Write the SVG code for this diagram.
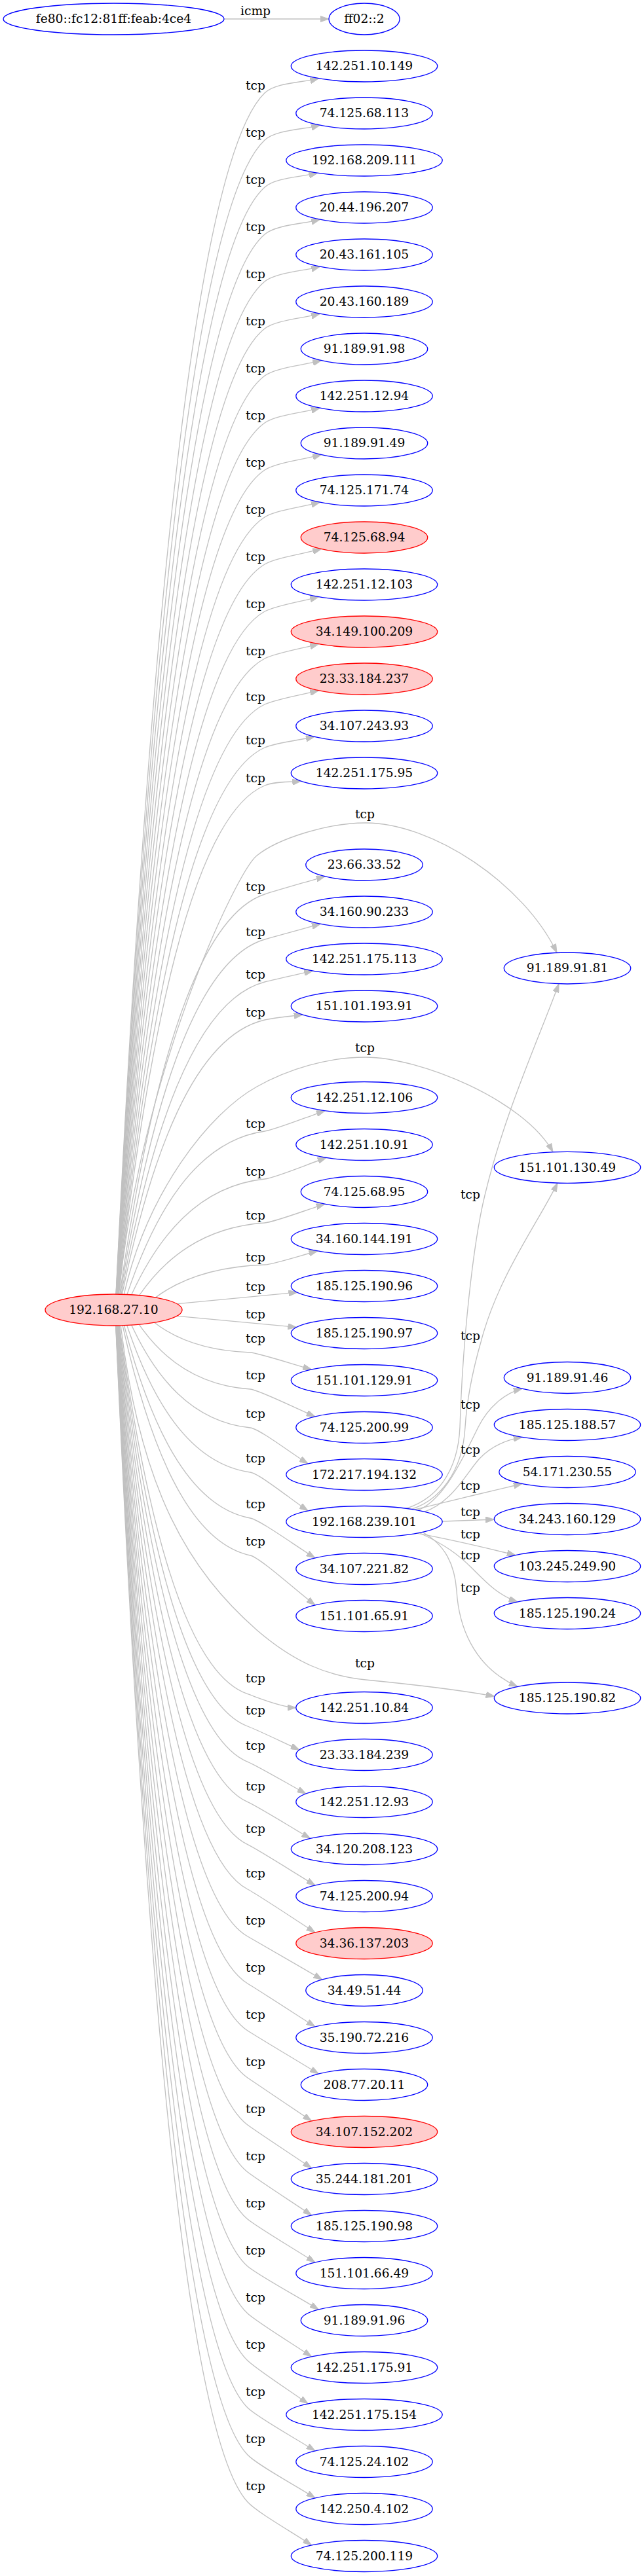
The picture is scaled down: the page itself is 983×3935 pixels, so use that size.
<svg xmlns="http://www.w3.org/2000/svg" width="983" height="3935" viewBox="0 0 983 3935">
<defs>
<style>
.n{fill:#fff;stroke:#0000ff;stroke-width:1.33}
.r{fill:#ffcccc;stroke:#ff0000;stroke-width:1.33}
text{font-family:'DejaVu Serif',serif;font-size:18.67px;text-anchor:middle;fill:#000}
.e path{fill:none;stroke:#c0c0c0;stroke-width:1.33;marker-end:url(#ah)}
</style>
<marker id="ah" viewBox="0 0 13.3 9.34" refX="13.3" refY="4.67" markerWidth="13.3" markerHeight="9.34" markerUnits="userSpaceOnUse" orient="auto"><path d="M0,0 L13.3,4.67 L0,9.34 Z" fill="#c0c0c0" stroke="#c0c0c0" stroke-width="1"/></marker>
</defs>
<rect width="983" height="3935" fill="#fff"/>
<g id="connectors" class="e">
<path d="M342,29 L502,29"/>
<path d="M177,1977 C222.4,1059.5 290.5,252.1 404,142 C421,125.5 461.7,126.5 486.4,119.8"/>
<path d="M177.1,1977 C222.5,1095.5 290.6,319.8 404,214 C421,198.1 463,198.1 488.3,191.3"/>
<path d="M177.2,1977 C222.6,1131.5 290.6,387.5 404,286 C421,270.8 460.5,270.7 484.7,264.2"/>
<path d="M177.4,1977 C222.7,1167.5 290.7,455.1 404,358 C421,343.4 463,342.1 488.3,335.3"/>
<path d="M177.5,1977 C222.8,1203.5 290.8,522.8 404,430 C421,416.1 463,414.1 488.3,407.3"/>
<path d="M177.7,1977 C223,1239.5 290.9,590.5 404,502 C421,488.7 463,486.1 488.3,479.3"/>
<path d="M177.9,1977 C223.1,1275.5 291,658.2 404,574 C421,561.4 464.5,557.7 490.5,550.7"/>
<path d="M178.1,1977 C223.3,1311.5 291.1,725.9 404,646 C421,634 463,630.1 488.3,623.3"/>
<path d="M178.3,1977 C223.4,1347.5 291.2,793.5 404,718 C421,706.7 464.5,701.7 490.5,694.7"/>
<path d="M178.6,1977 C223.7,1383.5 291.3,861.2 404,790 C421,779.3 463,774.1 488.3,767.3"/>
<path d="M178.8,1977 C223.8,1419.5 291.4,928.9 404,862 C421,852 464.5,845.7 490.5,838.7"/>
<path d="M179.2,1977 C224.2,1455.5 291.6,996.6 404,934 C421,924.6 461.7,918.5 486.4,911.8"/>
<path d="M179.5,1977 C224.4,1491.5 291.8,1064.3 404,1006 C421,997.3 461.7,990.5 486.4,983.8"/>
<path d="M180,1977 C224.8,1526.5 292,1130.1 404,1076 C421,1067.9 461.7,1061.2 486.4,1054.9"/>
<path d="M180.4,1977 C225.1,1559.5 292.2,1192.1 404,1142 C421,1134.5 457.3,1130.5 480.2,1125.5"/>
<path d="M180.9,1977 C225.5,1588.5 292.5,1246.6 404,1200 C421,1193 442.8,1195.2 459.5,1193.1"/>
<path d="M182.7,1977.1 C227,1671.5 293.4,1402.7 404,1366 C420.6,1360.5 468.4,1347 496,1338.8"/>
<path d="M183.7,1977.1 C227.8,1706 293.9,1467.5 404,1435 C420.5,1430.1 463.7,1418.5 489.3,1411.4"/>
<path d="M185,1977.1 C228.8,1738.5 294.5,1528.6 404,1500 C420.4,1495.7 455.4,1488.2 477.5,1483.1"/>
<path d="M186.4,1977.2 C229.9,1767.5 295.2,1583.1 404,1558 C420.3,1554.2 444.7,1552.4 462.1,1550"/>
<path d="M193.9,1977.4 C235.9,1852.7 299,1743 404,1728 C419.8,1725.8 468.5,1706.2 496.2,1696.8"/>
<path d="M200.7,1977.8 C241.4,1889.4 302.4,1811.6 404,1801 C419.2,1799.4 469.9,1778.3 498.2,1768.5"/>
<path d="M212.6,1978.7 C250.9,1923.4 308.3,1874.6 404,1868 C418.4,1867 468.3,1847.9 495.9,1839.3"/>
<path d="M237.6,1981.9 C270.9,1957 320.8,1935 404,1932 C416.5,1931.6 460.6,1917.3 484.8,1911"/>
<path d="M270.7,1991.7 L453.8,1974.2"/>
<path d="M270.7,2010.3 L452.7,2027.4"/>
<path d="M236,2020.4 C265.2,2043.2 309,2063.3 382,2066 C393,2066.4 447.5,2084.1 475.6,2091.9"/>
<path d="M212.4,2023.3 C246.3,2072.7 297.2,2116.1 382,2122 C394.7,2122.9 451.3,2151.3 481,2163.9"/>
<path d="M200.8,2024.2 C237,2102.6 291.4,2171.6 382,2181 C395.6,2182.4 443.7,2219.4 470.2,2235.9"/>
<path d="M193.8,2024.6 C231.4,2136.8 287.9,2235.5 382,2249 C396.1,2251 443.7,2290.2 470.2,2307.9"/>
<path d="M189.5,2024.7 C228,2171.9 285.8,2301.3 382,2319 C396.4,2321.6 451.3,2361.6 481,2379.9"/>
<path d="M187.2,2024.8 C226.2,2200.4 284.6,2354.9 382,2376 C396.6,2379.2 451.3,2429.1 481,2451.9"/>
<path d="M182.3,2024.9 C221.4,2306.3 280.2,2553.9 378,2587.7 C392.7,2592.8 430,2608.5 451.8,2608.5"/>
<path d="M181.7,2024.9 C221,2331 279.9,2600.3 378,2637 C392.7,2642.5 433.3,2662.2 457,2673"/>
<path d="M181.1,2024.9 C220.5,2358.1 279.6,2651.3 378,2691.3 C392.8,2697.3 440.3,2725.4 467,2740"/>
<path d="M180.5,2025 C220,2388.9 279.3,2709 378,2752.7 C392.8,2759.2 444.9,2791.6 473.6,2808.3"/>
<path d="M180,2025 C219.6,2421.4 279,2770.1 378,2817.7 C392.9,2824.8 450.1,2861.2 481,2879.9"/>
<path d="M179.5,2025 C219.2,2455.5 278.8,2834.3 378,2886 C392.9,2893.7 450.1,2932.1 481,2951.9"/>
<path d="M179.1,2025 C218.9,2491.5 278.6,2902 378,2958 C392.9,2966.4 457.7,3004.1 491.8,3023.9"/>
<path d="M178.8,2025 C218.6,2527.5 278.4,2969.7 378,3030 C392.9,3039 450.1,3076.1 481,3095.9"/>
<path d="M178.4,2025 C218.3,2563.5 278.2,3037.4 378,3102 C392.9,3111.7 453.9,3148.1 486.4,3167.9"/>
<path d="M178.2,2025 C218.2,2599.5 278.1,3105.1 378,3174 C392.9,3184.3 446.3,3220.1 475.6,3239.9"/>
<path d="M177.9,2025 C217.9,2635.5 278,3172.7 378,3246 C393,3257 446.3,3292.1 475.6,3311.9"/>
<path d="M177.7,2025 C217.8,2671.5 277.9,3240.4 378,3318 C393,3329.6 446.3,3364.1 475.6,3383.9"/>
<path d="M177.5,2025 C217.6,2707.5 277.8,3308.1 378,3390 C393,3402.3 450.1,3436.1 481,3455.9"/>
<path d="M177.3,2025 C217.4,2743.5 277.7,3375.8 378,3462 C393,3474.9 453.9,3508.1 486.4,3527.9"/>
<path d="M177.2,2025 C217.4,2779.5 277.6,3443.5 378,3534 C393,3547.6 446.3,3580.1 475.6,3599.9"/>
<path d="M177,2025 C217.2,2815.5 277.5,3511.1 378,3606 C393,3620.2 442.5,3652.1 470.2,3671.9"/>
<path d="M176.9,2025 C217.1,2851.5 277.5,3578.8 378,3678 C393,3692.8 450.1,3724.1 481,3743.9"/>
<path d="M176.8,2025 C217,2887.5 277.4,3646.5 378,3750 C393,3765.5 450.1,3796.1 481,3815.9"/>
<path d="M176.7,2025 C217,2923.5 277.4,3714.2 378,3822 C393,3838.2 446.3,3868.1 475.6,3887.9"/>
<path d="M181.5,1977 C215,1640 360,1333 392,1307 C424,1281 500,1257 558,1257 C660,1257 800,1350 850,1455.3"/>
<path d="M189.2,1977.3 C225,1820 320,1700 392,1660 C440,1633 500,1615 558,1615 C640,1615 800,1680 844,1759.8"/>
<path d="M184.3,2025 C215,2280 290,2400 392,2490 C450,2540 500,2560 558,2566 C640,2574 710,2583 755,2591.3"/>
<path d="M620,2304.3 C665,2290 699,2250 702,2180 C706,2050 722,1900 740,1826 C770,1700 825,1580 853,1502.8"/>
<path d="M628,2305.4 C670,2292 706,2250 710,2180 C713,2130 724,2085 734,2050 C760,1950 820,1870 851,1807.1"/>
<path d="M638,2307.1 C680,2290 710,2220 730,2180 C745,2150 770,2128 797,2121.3"/>
<path d="M648,2309.2 C690,2295 712,2250 732,2228 C752,2207 775,2199 797,2195.4"/>
<path d="M632.5,2306.1 C690,2292 740,2280 797,2266.5"/>
<path d="M675.2,2324 L754.3,2321"/>
<path d="M636.3,2342.2 C690,2352 740,2364 787,2375.6"/>
<path d="M640,2341.5 C680,2360 700,2375 720,2395 C740,2415 760,2437 790,2446.9"/>
<path d="M645,2340.5 C680,2360 694,2390 697,2430 C700,2480 720,2545 790,2576.4"/>
</g>
<g id="edge-labels">
<text x="390" y="23">icmp</text>
<text x="390" y="137">tcp</text><text x="390" y="209">tcp</text><text x="390" y="281">tcp</text><text x="390" y="353">tcp</text>
<text x="390" y="425">tcp</text><text x="390" y="497">tcp</text><text x="390" y="569">tcp</text><text x="390" y="641">tcp</text>
<text x="390" y="713">tcp</text><text x="390" y="785">tcp</text><text x="390" y="857">tcp</text><text x="390" y="929">tcp</text>
<text x="390" y="1001">tcp</text><text x="390" y="1071">tcp</text><text x="390" y="1137">tcp</text><text x="390" y="1195">tcp</text>
<text x="390" y="1361">tcp</text><text x="390" y="1430">tcp</text><text x="390" y="1495">tcp</text><text x="390" y="1553">tcp</text>
<text x="390" y="1723">tcp</text><text x="390" y="1796">tcp</text><text x="390" y="1863">tcp</text><text x="390" y="1927">tcp</text>
<text x="390" y="1972">tcp</text><text x="390" y="2014">tcp</text><text x="390" y="2051">tcp</text><text x="390" y="2107">tcp</text>
<text x="390" y="2166">tcp</text><text x="390" y="2234">tcp</text><text x="390" y="2304">tcp</text><text x="390" y="2361">tcp</text>
<text x="390" y="2569.7">tcp</text><text x="390" y="2619">tcp</text><text x="390" y="2673.3">tcp</text><text x="390" y="2734.7">tcp</text>
<text x="390" y="2799.7">tcp</text><text x="390" y="2868">tcp</text><text x="390" y="2940">tcp</text><text x="390" y="3012">tcp</text>
<text x="390" y="3084">tcp</text><text x="390" y="3156">tcp</text><text x="390" y="3228">tcp</text><text x="390" y="3300">tcp</text>
<text x="390" y="3372">tcp</text><text x="390" y="3444">tcp</text><text x="390" y="3516">tcp</text><text x="390" y="3588">tcp</text>
<text x="390" y="3660">tcp</text><text x="390" y="3732">tcp</text><text x="390" y="3804">tcp</text>
<text x="557" y="1250">tcp</text><text x="557" y="1607">tcp</text><text x="557" y="2547">tcp</text>
<text x="718" y="1830.7">tcp</text><text x="718" y="2047.3">tcp</text><text x="718" y="2152.3">tcp</text><text x="718" y="2221.3">tcp</text>
<text x="718" y="2276.3">tcp</text><text x="718" y="2316.3">tcp</text><text x="718" y="2350">tcp</text><text x="718" y="2382.3">tcp</text>
<text x="718" y="2432.3">tcp</text>
</g>
<g id="n-fe80"><ellipse class="n" cx="173.5" cy="29" rx="168.5" ry="24"/><text x="173.5" y="35.2">fe80::fc12:81ff:feab:4ce4</text></g>
<g id="n-192-168-27-10"><ellipse class="r" cx="173.5" cy="2001" rx="104.5" ry="24"/><text x="173.5" y="2007.2">192.168.27.10</text></g>
<g id="n-ff02"><ellipse class="n" cx="556" cy="29" rx="54" ry="24"/><text x="556" y="35.2">ff02::2</text></g>
<g id="n-142-251-10-149"><ellipse class="n" cx="556" cy="101" rx="111.7" ry="24"/><text x="556" y="107.2">142.251.10.149</text></g>
<g id="n-74-125-68-113"><ellipse class="n" cx="556" cy="173" rx="104.2" ry="24"/><text x="556" y="179.2">74.125.68.113</text></g>
<g id="n-192-168-209-111"><ellipse class="n" cx="556" cy="245" rx="119.2" ry="24"/><text x="556" y="251.2">192.168.209.111</text></g>
<g id="n-20-44-196-207"><ellipse class="n" cx="556" cy="317" rx="104.2" ry="24"/><text x="556" y="323.2">20.44.196.207</text></g>
<g id="n-20-43-161-105"><ellipse class="n" cx="556" cy="389" rx="104.2" ry="24"/><text x="556" y="395.2">20.43.161.105</text></g>
<g id="n-20-43-160-189"><ellipse class="n" cx="556" cy="461" rx="104.2" ry="24"/><text x="556" y="467.2">20.43.160.189</text></g>
<g id="n-91-189-91-98"><ellipse class="n" cx="556" cy="533" rx="96.7" ry="24"/><text x="556" y="539.2">91.189.91.98</text></g>
<g id="n-142-251-12-94"><ellipse class="n" cx="556" cy="605" rx="104.2" ry="24"/><text x="556" y="611.2">142.251.12.94</text></g>
<g id="n-91-189-91-49"><ellipse class="n" cx="556" cy="677" rx="96.7" ry="24"/><text x="556" y="683.2">91.189.91.49</text></g>
<g id="n-74-125-171-74"><ellipse class="n" cx="556" cy="749" rx="104.2" ry="24"/><text x="556" y="755.2">74.125.171.74</text></g>
<g id="n-74-125-68-94"><ellipse class="r" cx="556" cy="821" rx="96.7" ry="24"/><text x="556" y="827.2">74.125.68.94</text></g>
<g id="n-142-251-12-103"><ellipse class="n" cx="556" cy="893" rx="111.7" ry="24"/><text x="556" y="899.2">142.251.12.103</text></g>
<g id="n-34-149-100-209"><ellipse class="r" cx="556" cy="965" rx="111.7" ry="24"/><text x="556" y="971.2">34.149.100.209</text></g>
<g id="n-23-33-184-237"><ellipse class="r" cx="556" cy="1037" rx="104.2" ry="24"/><text x="556" y="1043.2">23.33.184.237</text></g>
<g id="n-34-107-243-93"><ellipse class="n" cx="556" cy="1109" rx="104.2" ry="24"/><text x="556" y="1115.2">34.107.243.93</text></g>
<g id="n-142-251-175-95"><ellipse class="n" cx="556" cy="1181" rx="111.7" ry="24"/><text x="556" y="1187.2">142.251.175.95</text></g>
<g id="n-23-66-33-52"><ellipse class="n" cx="556" cy="1321" rx="89.2" ry="24"/><text x="556" y="1327.2">23.66.33.52</text></g>
<g id="n-34-160-90-233"><ellipse class="n" cx="556" cy="1393" rx="104.2" ry="24"/><text x="556" y="1399.2">34.160.90.233</text></g>
<g id="n-142-251-175-113"><ellipse class="n" cx="556" cy="1465" rx="119.2" ry="24"/><text x="556" y="1471.2">142.251.175.113</text></g>
<g id="n-151-101-193-91"><ellipse class="n" cx="556" cy="1537" rx="111.7" ry="24"/><text x="556" y="1543.2">151.101.193.91</text></g>
<g id="n-142-251-12-106"><ellipse class="n" cx="556" cy="1676.5" rx="111.7" ry="24"/><text x="556" y="1682.7">142.251.12.106</text></g>
<g id="n-142-251-10-91"><ellipse class="n" cx="556" cy="1748.5" rx="104.2" ry="24"/><text x="556" y="1754.7">142.251.10.91</text></g>
<g id="n-74-125-68-95"><ellipse class="n" cx="556" cy="1820.5" rx="96.7" ry="24"/><text x="556" y="1826.7">74.125.68.95</text></g>
<g id="n-34-160-144-191"><ellipse class="n" cx="556" cy="1892.5" rx="111.7" ry="24"/><text x="556" y="1898.7">34.160.144.191</text></g>
<g id="n-185-125-190-96"><ellipse class="n" cx="556" cy="1964.5" rx="111.7" ry="24"/><text x="556" y="1970.7">185.125.190.96</text></g>
<g id="n-185-125-190-97"><ellipse class="n" cx="556" cy="2036.5" rx="111.7" ry="24"/><text x="556" y="2042.7">185.125.190.97</text></g>
<g id="n-151-101-129-91"><ellipse class="n" cx="556" cy="2108.5" rx="111.7" ry="24"/><text x="556" y="2114.7">151.101.129.91</text></g>
<g id="n-74-125-200-99"><ellipse class="n" cx="556" cy="2180.5" rx="104.2" ry="24"/><text x="556" y="2186.7">74.125.200.99</text></g>
<g id="n-172-217-194-132"><ellipse class="n" cx="556" cy="2252.5" rx="119.2" ry="24"/><text x="556" y="2258.7">172.217.194.132</text></g>
<g id="n-192-168-239-101"><ellipse class="n" cx="556" cy="2324.5" rx="119.2" ry="24"/><text x="556" y="2330.7">192.168.239.101</text></g>
<g id="n-34-107-221-82"><ellipse class="n" cx="556" cy="2396.5" rx="104.2" ry="24"/><text x="556" y="2402.7">34.107.221.82</text></g>
<g id="n-151-101-65-91"><ellipse class="n" cx="556" cy="2468.5" rx="104.2" ry="24"/><text x="556" y="2474.7">151.101.65.91</text></g>
<g id="n-142-251-10-84"><ellipse class="n" cx="556" cy="2608.5" rx="104.2" ry="24"/><text x="556" y="2614.7">142.251.10.84</text></g>
<g id="n-23-33-184-239"><ellipse class="n" cx="556" cy="2680.5" rx="104.2" ry="24"/><text x="556" y="2686.7">23.33.184.239</text></g>
<g id="n-142-251-12-93"><ellipse class="n" cx="556" cy="2752.5" rx="104.2" ry="24"/><text x="556" y="2758.7">142.251.12.93</text></g>
<g id="n-34-120-208-123"><ellipse class="n" cx="556" cy="2824.5" rx="111.7" ry="24"/><text x="556" y="2830.7">34.120.208.123</text></g>
<g id="n-74-125-200-94"><ellipse class="n" cx="556" cy="2896.5" rx="104.2" ry="24"/><text x="556" y="2902.7">74.125.200.94</text></g>
<g id="n-34-36-137-203"><ellipse class="r" cx="556" cy="2968.5" rx="104.2" ry="24"/><text x="556" y="2974.7">34.36.137.203</text></g>
<g id="n-34-49-51-44"><ellipse class="n" cx="556" cy="3040.5" rx="89.2" ry="24"/><text x="556" y="3046.7">34.49.51.44</text></g>
<g id="n-35-190-72-216"><ellipse class="n" cx="556" cy="3112.5" rx="104.2" ry="24"/><text x="556" y="3118.7">35.190.72.216</text></g>
<g id="n-208-77-20-11"><ellipse class="n" cx="556" cy="3184.5" rx="96.7" ry="24"/><text x="556" y="3190.7">208.77.20.11</text></g>
<g id="n-34-107-152-202"><ellipse class="r" cx="556" cy="3256.5" rx="111.7" ry="24"/><text x="556" y="3262.7">34.107.152.202</text></g>
<g id="n-35-244-181-201"><ellipse class="n" cx="556" cy="3328.5" rx="111.7" ry="24"/><text x="556" y="3334.7">35.244.181.201</text></g>
<g id="n-185-125-190-98"><ellipse class="n" cx="556" cy="3400.5" rx="111.7" ry="24"/><text x="556" y="3406.7">185.125.190.98</text></g>
<g id="n-151-101-66-49"><ellipse class="n" cx="556" cy="3472.5" rx="104.2" ry="24"/><text x="556" y="3478.7">151.101.66.49</text></g>
<g id="n-91-189-91-96"><ellipse class="n" cx="556" cy="3544.5" rx="96.7" ry="24"/><text x="556" y="3550.7">91.189.91.96</text></g>
<g id="n-142-251-175-91"><ellipse class="n" cx="556" cy="3616.5" rx="111.7" ry="24"/><text x="556" y="3622.7">142.251.175.91</text></g>
<g id="n-142-251-175-154"><ellipse class="n" cx="556" cy="3688.5" rx="119.2" ry="24"/><text x="556" y="3694.7">142.251.175.154</text></g>
<g id="n-74-125-24-102"><ellipse class="n" cx="556" cy="3760.5" rx="104.2" ry="24"/><text x="556" y="3766.7">74.125.24.102</text></g>
<g id="n-142-250-4-102"><ellipse class="n" cx="556" cy="3832.5" rx="104.2" ry="24"/><text x="556" y="3838.7">142.250.4.102</text></g>
<g id="n-74-125-200-119"><ellipse class="n" cx="556" cy="3904.5" rx="111.7" ry="24"/><text x="556" y="3910.7">74.125.200.119</text></g>
<g id="n-91-189-91-81"><ellipse class="n" cx="866" cy="1479" rx="96.7" ry="24"/><text x="866" y="1485.2">91.189.91.81</text></g>
<g id="n-151-101-130-49"><ellipse class="n" cx="866" cy="1783.3" rx="111.7" ry="24"/><text x="866" y="1789.5">151.101.130.49</text></g>
<g id="n-91-189-91-46"><ellipse class="n" cx="866" cy="2104.5" rx="96.7" ry="24"/><text x="866" y="2110.7">91.189.91.46</text></g>
<g id="n-185-125-188-57"><ellipse class="n" cx="866" cy="2176.5" rx="111.7" ry="24"/><text x="866" y="2182.7">185.125.188.57</text></g>
<g id="n-54-171-230-55"><ellipse class="n" cx="866" cy="2248.5" rx="104.2" ry="24"/><text x="866" y="2254.7">54.171.230.55</text></g>
<g id="n-34-243-160-129"><ellipse class="n" cx="866" cy="2320.5" rx="111.7" ry="24"/><text x="866" y="2326.7">34.243.160.129</text></g>
<g id="n-103-245-249-90"><ellipse class="n" cx="866" cy="2392.5" rx="111.7" ry="24"/><text x="866" y="2398.7">103.245.249.90</text></g>
<g id="n-185-125-190-24"><ellipse class="n" cx="866" cy="2464.5" rx="111.7" ry="24"/><text x="866" y="2470.7">185.125.190.24</text></g>
<g id="n-185-125-190-82"><ellipse class="n" cx="866" cy="2594" rx="111.7" ry="24"/><text x="866" y="2600.2">185.125.190.82</text></g>
</svg>
